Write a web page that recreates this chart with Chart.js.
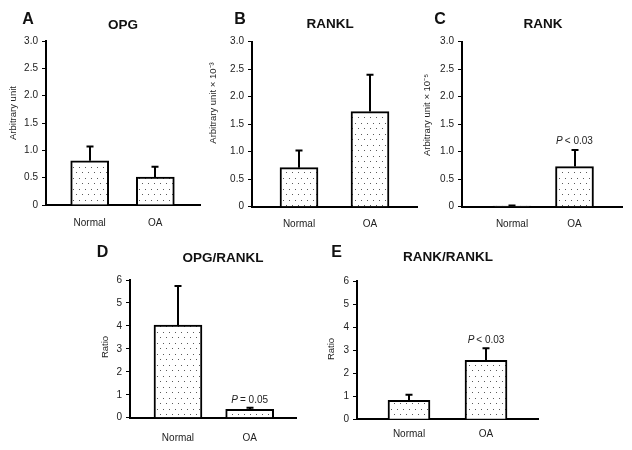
<!DOCTYPE html>
<html>
<head>
<meta charset="utf-8">
<script src="https://cdn.jsdelivr.net/npm/chart.js@4/dist/chart.umd.min.js"></script>
<style>
  html, body { margin: 0; padding: 0; background: #fff; }
  #wrap { position: relative; width: 632px; height: 450px; overflow: hidden; background: #fff; }
  #wrap canvas { position: absolute; left: 0; top: 0; }
</style>
</head>
<body>
<div id="wrap">
  <canvas id="cA" width="632" height="450"></canvas>
  <canvas id="cB" width="632" height="450"></canvas>
  <canvas id="cC" width="632" height="450"></canvas>
  <canvas id="cD" width="632" height="450"></canvas>
  <canvas id="cE" width="632" height="450"></canvas>
</div>
<script>
// ---------------- DATA ----------------
const categories = ['Normal', 'OA'];

const opgMean = [0.81, 0.51];
const opgSD   = [0.26, 0.19];

const ranklMean = [0.71, 1.73];
const ranklSD   = [0.31, 0.67];

const rankMean = [0.01, 0.73];
const rankSD   = [0.01, 0.30];

const opgRanklMean = [4.04, 0.36];
const opgRanklSD   = [1.70, 0.07];

const rankRanklMean = [0.82, 2.56];
const rankRanklSD   = [0.25, 0.52];

const ticksSmall = [0, 0.5, 1.0, 1.5, 2.0, 2.5, 3.0];
const ticksRatio = [0, 1, 2, 3, 4, 5, 6];

const panelLetters = ['A', 'B', 'C', 'D', 'E'];
const panelTitles  = ['OPG', 'RANKL', 'RANK', 'OPG/RANKL', 'RANK/RANKL'];
const yTitles = ['Arbitrary unit', 'Arbitrary unit \u00d7 10\u207b\u00b3', 'Arbitrary unit \u00d7 10\u207b\u2075', 'Ratio', 'Ratio'];
const pNotes  = [null, null, '< 0.03', '= 0.05', '< 0.03'];   // shown over the OA bar, after an italic "P"

// ---------------- STYLE ----------------
const FONT = '"Liberation Sans", Arial, Helvetica, sans-serif';
const YW = 30;   // fixed y-axis box width
const XH = 30;   // fixed x-axis box height

function dotPattern() {
  const c = document.createElement('canvas');
  c.width = 6; c.height = 11;
  const g = c.getContext('2d');
  g.fillStyle = '#fff';
  g.fillRect(0, 0, 6, 11);
  g.fillStyle = '#5a5a5a';
  g.fillRect(1, 2, 1, 1);
  g.fillRect(4, 7, 1, 1);
  return g.createPattern(c, 'repeat');
}

const errorBarPlugin = {
  id: 'errorBars',
  afterDatasetsDraw(chart) {
    const ctx = chart.ctx;
    const ys = chart.scales.y;
    const ds = chart.data.datasets[0];
    const meta = chart.getDatasetMeta(0);
    ctx.save();
    ctx.strokeStyle = '#000';
    ctx.lineWidth = 2;
    meta.data.forEach((bar, i) => {
      const top = ys.getPixelForValue(ds.means[i] + ds.sds[i]);
      const x = Math.round(bar.x);
      ctx.beginPath();
      ctx.moveTo(x, bar.y);
      ctx.lineTo(x, top);
      ctx.moveTo(x - 3.5, top);
      ctx.lineTo(x + 3.5, top);
      ctx.stroke();
    });
    ctx.restore();
  }
};

const textPlugin = {
  id: 'panelText',
  afterDraw(chart) {
    const o = chart.options.plugins.panelText;
    const ctx = chart.ctx;
    ctx.save();
    ctx.fillStyle = '#111';
    ctx.textBaseline = 'middle';
    ctx.textAlign = 'center';
    ctx.font = 'bold 16px ' + FONT;
    ctx.fillText(o.letter, o.letterX, o.letterY);
    ctx.font = 'bold 13.5px ' + FONT;
    ctx.fillText(o.title, o.titleX, o.titleY);
    ctx.font = '9.5px ' + FONT;
    ctx.fillStyle = '#222';
    ctx.save();
    ctx.translate(o.yTitleX, o.yTitleY);
    ctx.rotate(-Math.PI / 2);
    ctx.fillText(o.yTitle, 0, 0);
    ctx.restore();
    if (o.pNote) {
      const ds = chart.data.datasets[0];
      const bar = chart.getDatasetMeta(0).data[1];
      const top = chart.scales.y.getPixelForValue(ds.means[1] + ds.sds[1]);
      const y = top - o.pGap;
      ctx.font = 'italic 10px ' + FONT;
      const wP = ctx.measureText('P').width;
      ctx.font = '10px ' + FONT;
      const rest = '\u2009' + o.pNote;
      const wR = ctx.measureText(rest).width;
      const x0 = bar.x - (wP + wR) / 2;
      ctx.textAlign = 'left';
      ctx.font = 'italic 10px ' + FONT;
      ctx.fillText('P', x0, y);
      ctx.font = '10px ' + FONT;
      ctx.fillText(rest, x0 + wP, y);
    }
    ctx.restore();
  }
};

function makePanel(id, idx, means, sds, yTicks, box, text) {
  const yMax = yTicks[yTicks.length - 1];
  const step = yTicks[1] - yTicks[0];
  const pattern = dotPattern();
  return new Chart(document.getElementById(id), {
    type: 'bar',
    data: {
      datasets: [{
        data: means.map((v, i) => ({ x: i + 1, y: v })),
        means: means,
        sds: sds,
        backgroundColor: pattern,
        borderColor: '#000',
        borderWidth: 2,
        barThickness: box.barW,
        borderSkipped: 'bottom'
      }]
    },
    options: {
      responsive: false,
      animation: false,
      events: [],
      layout: {
        padding: {
          left: box.L - YW,
          right: 632 - box.R,
          top: box.T,
          bottom: 450 - box.B - XH
        }
      },
      plugins: {
        legend: { display: false },
        title: { display: false },
        tooltip: { enabled: false },
        panelText: Object.assign({
          letter: panelLetters[idx],
          title: panelTitles[idx],
          yTitle: yTitles[idx],
          pNote: pNotes[idx]
        }, text)
      },
      scales: {
        x: {
          type: 'linear',
          offset: false,
          bounds: 'data',
          min: box.xMin,
          max: box.xMax,
          afterFit(s) { s.height = XH; },
          afterBuildTicks(s) { s.ticks = categories.map((c, i) => ({ value: i + 1 })); },
          grid: { display: false, offset: false },
          border: { display: true, color: '#000', width: 2 },
          ticks: {
            padding: box.xPad,
            color: '#222',
            font: { family: FONT, size: 10 },
            maxRotation: 0,
            autoSkip: false,
            callback: (v) => categories[Math.round(v) - 1] || ''
          }
        },
        y: {
          type: 'linear',
          min: 0,
          max: yMax,
          afterFit(s) { s.width = YW; },
          afterBuildTicks(s) { s.ticks = yTicks.map(v => ({ value: v })); },
          grid: { display: true, drawOnChartArea: false, drawTicks: true, tickLength: 4, color: '#000', lineWidth: 1 },
          border: { display: true, color: '#000', width: 2 },
          ticks: {
            padding: 4,
            color: '#222',
            font: { family: FONT, size: 10 },
            stepSize: step,
            callback: (v) => (v === 0 ? '0' : (step < 1 ? Number(v).toFixed(1) : String(v)))
          }
        }
      }
    },
    plugins: [errorBarPlugin, textPlugin]
  });
}

makePanel('cA', 0, opgMean, opgSD, ticksSmall,
  { L: 46, R: 200, T: 41, B: 205, xMin: 0.334, xMax: 2.681, barW: 38, xPad: 4 },
  { letterX: 28, letterY: 20, titleX: 123, titleY: 25, yTitleX: 13, yTitleY: 113 });

makePanel('cB', 1, ranklMean, ranklSD, ticksSmall,
  { L: 252, R: 417, T: 41.7, B: 206.7, xMin: 0.338, xMax: 2.662, barW: 38, xPad: 4 },
  { letterX: 240, letterY: 20, titleX: 330, titleY: 24, yTitleX: 213, yTitleY: 103 });

makePanel('cC', 2, rankMean, rankSD, ticksSmall,
  { L: 462, R: 622, T: 41.7, B: 206.7, xMin: 0.2, xMax: 2.76, barW: 38, xPad: 4 },
  { letterX: 440, letterY: 20, titleX: 543, titleY: 24, yTitleX: 427, yTitleY: 115, pGap: 9 });

makePanel('cD', 3, opgRanklMean, opgRanklSD, ticksRatio,
  { L: 130, R: 296, T: 280, B: 417.7, xMin: 0.331, xMax: 2.646, barW: 48, xPad: 7 },
  { letterX: 102.5, letterY: 253, titleX: 223, titleY: 258, yTitleX: 105, yTitleY: 347, pGap: 8 });

makePanel('cE', 4, rankRanklMean, rankRanklSD, ticksRatio,
  { L: 357, R: 538, T: 281, B: 419.3, xMin: 0.325, xMax: 2.675, barW: 42, xPad: 1 },
  { letterX: 336.7, letterY: 253, titleX: 448, titleY: 257, yTitleX: 331, yTitleY: 349, pGap: 8 });
</script>
</body>
</html>
